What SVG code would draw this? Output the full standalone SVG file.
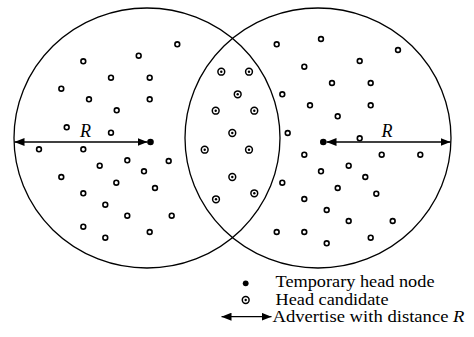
<svg xmlns="http://www.w3.org/2000/svg" xmlns:xlink="http://www.w3.org/1999/xlink" width="474" height="337" viewBox="0 0 474 337">
<style>
.range{fill:none;stroke:#000;stroke-width:1.3}
.n{fill:#fff;stroke:#000;stroke-width:1.6}
.hc{fill:#fff;stroke:#000;stroke-width:1.5}
.hd{fill:#000}
.arr{fill:none;stroke:#000;stroke-width:1.3;marker-start:url(#ah);marker-end:url(#ah)}
.t{font-family:"Liberation Serif","Times New Roman",serif;font-size:17px;fill:#000}
.r{font-family:"Liberation Serif","Times New Roman",serif;font-size:18px;font-style:italic;fill:#000}
</style>
<defs>
<marker id="ah" viewBox="0 0 10 8" refX="10" refY="4" markerWidth="10" markerHeight="8" markerUnits="userSpaceOnUse" orient="auto-start-reverse">
<path d="M0,0 L10,4 L0,8 Z" fill="#000"/>
</marker>
<circle id="node" class="n" r="2.4"/>
<g id="cand"><circle class="hc" r="3.4"/><circle class="hd" r="1.2"/></g>
</defs>
<rect width="474" height="337" fill="#fff"/>
<g id="range-left"><ellipse class="range" cx="147" cy="138" rx="133" ry="130"/></g>
<g id="range-right"><ellipse class="range" cx="318" cy="138" rx="133" ry="130"/></g>
<g id="nodes-left">
<use href="#node" x="177.3" y="44.3"/><use href="#node" x="138.7" y="55.7"/><use href="#node" x="83.3" y="61.3"/>
<use href="#node" x="111" y="77.7"/><use href="#node" x="149.7" y="77.7"/><use href="#node" x="61.3" y="88.7"/>
<use href="#node" x="89" y="99.3"/><use href="#node" x="149.7" y="99.3"/><use href="#node" x="116.7" y="110.3"/>
<use href="#node" x="66.7" y="127.3"/><use href="#node" x="111" y="132.7"/><use href="#node" x="39" y="149.3"/>
<use href="#node" x="83.3" y="149.3"/><use href="#node" x="99.7" y="165.7"/><use href="#node" x="127.3" y="160.3"/>
<use href="#node" x="168.7" y="161"/><use href="#node" x="144" y="171.3"/><use href="#node" x="61.3" y="177"/>
<use href="#node" x="116.3" y="182.7"/><use href="#node" x="155" y="188"/><use href="#node" x="83.3" y="193.3"/>
<use href="#node" x="105.3" y="204.7"/><use href="#node" x="127.3" y="215.7"/><use href="#node" x="171.7" y="215.7"/>
<use href="#node" x="83.3" y="226.7"/><use href="#node" x="105.3" y="237.7"/><use href="#node" x="149.7" y="232"/>
</g>
<g id="nodes-right">
<use href="#node" x="276.7" y="44.3"/><use href="#node" x="321" y="39"/><use href="#node" x="398" y="50"/>
<use href="#node" x="359.7" y="61"/><use href="#node" x="304.3" y="66.7"/><use href="#node" x="332" y="83"/>
<use href="#node" x="370.7" y="83"/><use href="#node" x="282.3" y="94.3"/><use href="#node" x="310" y="105.3"/>
<use href="#node" x="370.7" y="105.3"/><use href="#node" x="337.7" y="116.3"/><use href="#node" x="287.7" y="133"/>
<use href="#node" x="359.7" y="138.3"/><use href="#node" x="304.3" y="154.7"/><use href="#node" x="381.7" y="154.7"/>
<use href="#node" x="420.3" y="154.7"/><use href="#node" x="348.7" y="165.7"/><use href="#node" x="321" y="171.3"/>
<use href="#node" x="365.3" y="177"/><use href="#node" x="282.3" y="182.7"/><use href="#node" x="337.7" y="188"/>
<use href="#node" x="376.3" y="193.7"/><use href="#node" x="304.3" y="199"/><use href="#node" x="326.7" y="210"/>
<use href="#node" x="348.7" y="221"/><use href="#node" x="392.7" y="221"/><use href="#node" x="276.7" y="232"/>
<use href="#node" x="304.3" y="232"/><use href="#node" x="326.7" y="243.3"/><use href="#node" x="370.7" y="237.7"/>
</g>
<g id="head-candidates">
<use href="#cand" x="221.3" y="71.7"/><use href="#cand" x="249" y="71.7"/><use href="#cand" x="237.7" y="94.3"/>
<use href="#cand" x="215.7" y="110.7"/><use href="#cand" x="254.3" y="110.7"/><use href="#cand" x="232.3" y="133"/>
<use href="#cand" x="204.7" y="149.7"/><use href="#cand" x="249" y="149.7"/><use href="#cand" x="232.3" y="177"/>
<use href="#cand" x="254.3" y="193.3"/><use href="#cand" x="216" y="199.3"/>
</g>
<g id="connectors">
<line class="arr" x1="14.5" y1="142" x2="147.5" y2="142"/>
<line class="arr" x1="326.5" y1="142" x2="450.5" y2="142"/>
<line class="arr" x1="221.5" y1="316.7" x2="271.5" y2="316.7"/>
</g>
<g id="head-left"><circle class="hd" cx="150.5" cy="142" r="3.3"/></g>
<g id="head-right"><circle class="hd" cx="323.3" cy="142" r="3.3"/></g>
<text class="r" x="80" y="137">R</text>
<text class="r" x="381.5" y="137">R</text>
<g id="legend">
<circle class="hd" cx="245.7" cy="283.3" r="2.9"/>
<use href="#cand" x="245.7" y="300"/>
<text class="t" x="275.5" y="287" textLength="159" lengthAdjust="spacingAndGlyphs">Temporary head node</text>
<text class="t" x="275.5" y="304.5" textLength="113" lengthAdjust="spacingAndGlyphs">Head candidate</text>
<text class="t" x="272.5" y="322" textLength="192" lengthAdjust="spacingAndGlyphs">Advertise with distance <tspan font-style="italic">R</tspan></text>
</g>
</svg>
